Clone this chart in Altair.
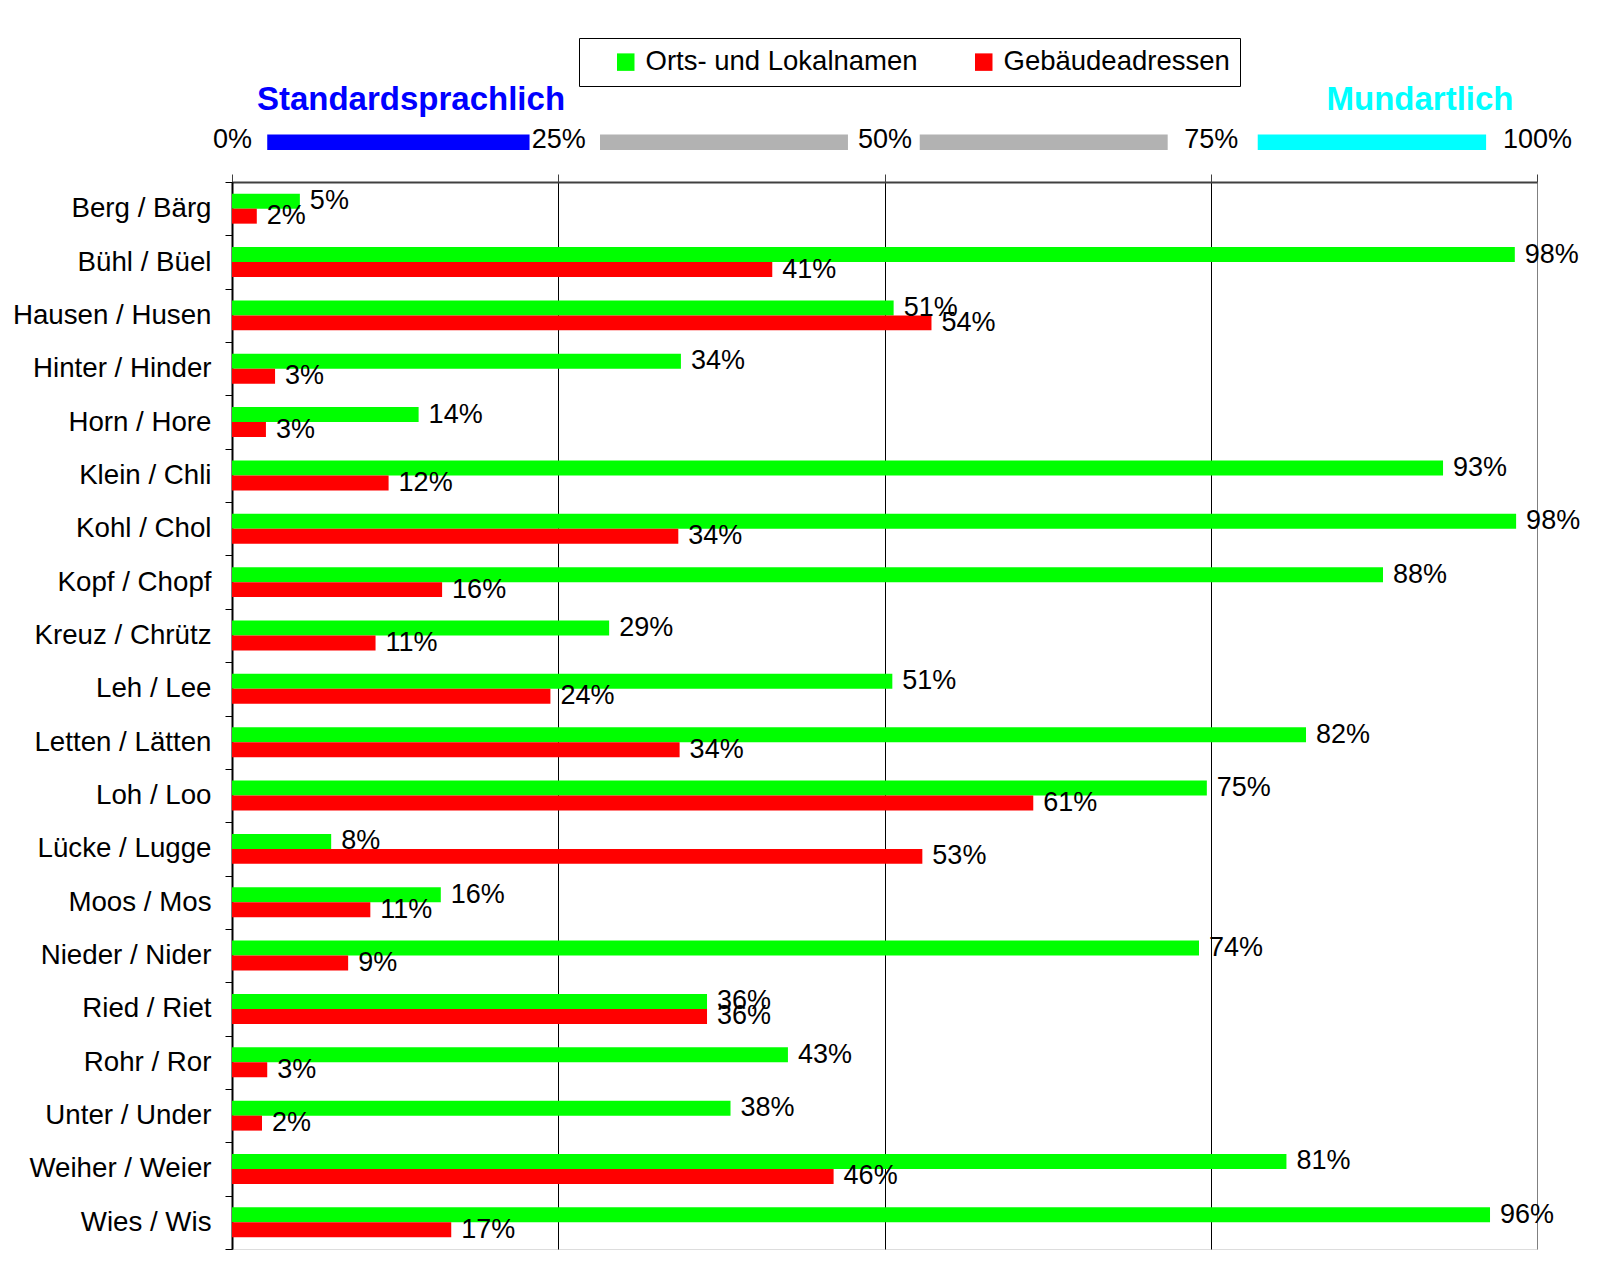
import altair as alt
import pandas as pd

categories = ["Berg / Bärg", "Bühl / Büel", "Hausen / Husen", "Hinter / Hinder",
              "Horn / Hore", "Klein / Chli", "Kohl / Chol", "Kopf / Chopf",
              "Kreuz / Chrütz", "Leh / Lee", "Letten / Lätten", "Loh / Loo",
              "Lücke / Lugge", "Moos / Mos", "Nieder / Nider", "Ried / Riet",
              "Rohr / Ror", "Unter / Under", "Weiher / Weier", "Wies / Wis"]
series_names = ["Orts- und Lokalnamen", "Gebäudeadressen"]
orts = [5.2, 98.3, 50.7, 34.4, 14.3, 92.8, 98.4, 88.2, 28.9, 50.6,
        82.3, 74.7, 7.6, 16.0, 74.1, 36.4, 42.6, 38.2, 80.8, 96.4]
gebaeude = [1.9, 41.4, 53.6, 3.3, 2.6, 12.0, 34.2, 16.1, 11.0, 24.4,
            34.3, 61.4, 52.9, 10.6, 8.9, 36.4, 2.7, 2.3, 46.1, 16.8]
tick_values = [0, 25, 50, 75, 100]
band_names = ["standard", "mitte1", "mitte2", "mundart"]
band_from = [2.7, 28.2, 52.7, 78.6]
band_to = [22.8, 47.2, 71.7, 96.1]

FONT = "Liberation Sans"

rows = []
for c, o, g in zip(categories, orts, gebaeude):
    rows.append({"category": c, "series": series_names[0], "value": o})
    rows.append({"category": c, "series": series_names[1], "value": g})
df = pd.DataFrame(rows)
df_bands = pd.DataFrame({"band": band_names, "from": band_from, "to": band_to})

grid_color = {"condition": {"test": "datum.value >= 100", "value": "#808080"}, "value": "black"}

x_enc = alt.X("value:Q", scale=alt.Scale(domain=[0, 100], nice=False),
              axis=alt.Axis(orient="top", values=tick_values, labelExpr="datum.value + '%'",
                            title=None, tickSize=8, tickColor="#404040", labelPadding=35,
                            labelBaseline="middle", labelFontSize=27, labelFont=FONT,
                            labelFlush=False, labelOverlap=False,
                            labelColor="black", grid=True, gridColor=grid_color, gridWidth=1,
                            domainColor="#404040", domainWidth=2))
y_enc = alt.Y("category:N", sort=categories, scale=alt.Scale(paddingInner=0, paddingOuter=0),
              axis=alt.Axis(title=None, labelFont=FONT, labelFontSize=27.7, labelColor="black",
                            labelPadding=14, tickBand="extent", ticks=True, tickSize=7,
                            tickColor="black", domainColor="black", domainWidth=2,
                            grid=False, labelLimit=400))
yoff = alt.YOffset("series:N", sort=series_names,
                   scale=alt.Scale(paddingInner=0, paddingOuter=0.78))

base = alt.Chart(df)

bars = base.mark_bar().encode(
    x=x_enc, y=y_enc, yOffset=yoff,
    color=alt.Color("series:N", sort=series_names,
                    scale=alt.Scale(domain=series_names, range=["#00ff00", "#ff0000"]),
                    legend=alt.Legend(orient="none", legendX=347, legendY=-144,
                                      direction="horizontal", title=None,
                                      labelFont=FONT, labelFontSize=27.5, labelColor="black",
                                      labelLimit=500,
                                      labelExpr="datum.value == 'Gebäudeadressen' ? datum.label + '\u00a0\u00a0\u00a0\u00a0' : datum.label",
                                      symbolType="square", symbolSize=306,
                                      symbolStrokeWidth=0, symbolOffset=23,
                                      strokeColor="black", fillColor="white",
                                      padding=10, labelOffset=6, columnPadding=29)),
)

labels = base.mark_text(align="left", baseline="middle", dx=10, fontSize=27,
                        font=FONT, color="black").encode(
    x="value:Q", y=alt.Y("category:N", sort=categories), yOffset=yoff,
    text="label:N",
).transform_calculate(label="format(datum.value, '.0f') + '%'")

bands = alt.Chart(df_bands).mark_rect().encode(
    x="from:Q", x2="to:Q", y=alt.value(-47.5), y2=alt.value(-32),
    fill=alt.Fill("band:N", scale=alt.Scale(domain=band_names,
                                            range=["#0000ff", "#b2b2b2", "#b2b2b2", "#00ffff"]),
                  legend=None),
)

title_left = alt.Chart(pd.DataFrame({"t": ["Standardsprachlich"]})).mark_text(
    font=FONT, fontSize=33, fontWeight="bold", color="#0000ff",
    align="center", baseline="middle").encode(text="t:N", x=alt.value(179), y=alt.value(-82))
title_right = alt.Chart(pd.DataFrame({"t": ["Mundartlich"]})).mark_text(
    font=FONT, fontSize=33, fontWeight="bold", color="#00ffff",
    align="center", baseline="middle").encode(text="t:N", x=alt.value(1188), y=alt.value(-82))

chart = alt.layer(bars, labels, bands, title_left, title_right).properties(
    width=1305, height=1067,
    padding={"left": 4, "top": 29, "right": 5, "bottom": 5},
).configure_view(stroke="#808080", strokeWidth=3).configure(background="white")

chart.save("out.html", embed_options={"renderer": "svg", "actions": False})
